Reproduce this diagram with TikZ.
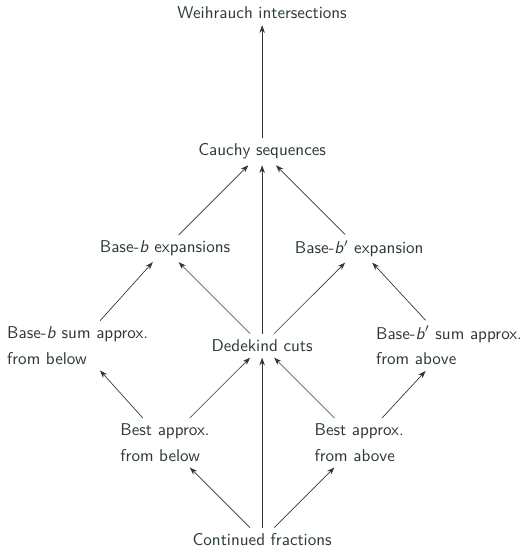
\documentclass[tikz,border=0pt]{standalone}
\usetikzlibrary{arrows.meta}
\definecolor{ink}{HTML}{2B3838}

\begin{document}
\begin{tikzpicture}
        \tikzstyle{every node}=[font=\sffamily, text=ink, align=left]
        \tikzstyle{implies}=[-{Stealth[length=4.5pt,width=3.2pt]}, draw=ink]
        \useasboundingbox (-5.4,-0.21) rectangle (5.4,11.12);
        \node (cont) at (0,0) {Continued fractions};
        \node (bestb) at (-2,2) {Best approx.\\[3pt]from below};
        \node (besta) at (2,2) {Best approx.\\[3pt]from above};
        \node (bsum) at (-3.8,4) {Base-\textsl{b} sum approx.\\[3pt]from below};
        \node (dede) at (0,4) {Dedekind cuts};
        \node (bpsum) at (3.85,4) {Base-\textsl{b}$'$ sum approx.\\[3pt]from above};
        \node (bexp) at (-2,6) {Base-\textsl{b} expansions};
        \node (bpexp) at (2,6) {Base-\textsl{b}$'$ expansion};
        \node (cauchy) at (0,8) {Cauchy sequences};
        \node (weih) at (0,10.85) {Weihrauch intersections};
        \draw[implies] (cont) -- (bestb);
        \draw[implies] (cont) -- (dede);
        \draw[implies] (cont) -- (besta);
        \draw[implies] (bestb) -- (bsum);
        \draw[implies] (bestb) -- (dede);
        \draw[implies] (besta) -- (dede);
        \draw[implies] (besta) -- (bpsum);
        \draw[implies] (bsum) -- (bexp);
        \draw[implies] (dede) -- (bexp);
        \draw[implies] (dede) -- (bpexp);
        \draw[implies] (bpsum) -- (bpexp);
        \draw[implies] (bexp) -- (cauchy);
        \draw[implies] (dede) -- (cauchy);
        \draw[implies] (bpexp) -- (cauchy);
        \draw[implies] (cauchy) -- (weih);
\end{tikzpicture}
\end{document}
